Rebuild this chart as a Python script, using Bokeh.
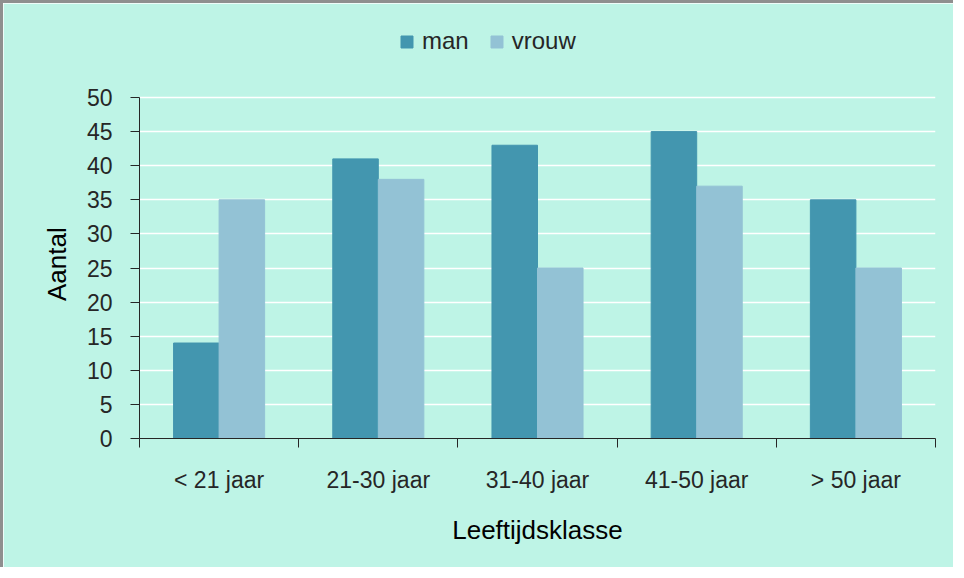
from bokeh.plotting import figure
from bokeh.models import ColumnDataSource, FixedTicker, Legend, LegendItem, Title
from bokeh.transform import dodge
from bokeh.embed import file_html
from bokeh.resources import INLINE

categories = ["< 21 jaar", "21-30 jaar", "31-40 jaar", "41-50 jaar", "> 50 jaar"]
man = [14, 41, 43, 45, 35]
vrouw = [35, 38, 25, 37, 25]
y_ticks = [0, 5, 10, 15, 20, 25, 30, 35, 40, 45, 50]
y_max = 50

BG = "#BEF4E6"
C_MAN = "#4396AF"
C_VROUW = "#93C2D5"
FONT = "Liberation Sans"

# layout (pixels inside the figure)
W, H = 953, 567
FRAME_TOP, FRAME_BOTTOM, AXIS_TOP = 20, 435, 94
range_end = y_max * (FRAME_BOTTOM - FRAME_TOP) / (FRAME_BOTTOM - AXIS_TOP)

centers = [i + 0.5 for i in range(len(categories))]
src = ColumnDataSource(dict(x=centers, cat=categories, man=man, vrouw=vrouw))

p = figure(width=W, height=H, output_backend="svg", toolbar_location=None,
           x_range=(0, len(categories)), y_range=(0, range_end),
           background_fill_color=BG, border_fill_color=BG,
           min_border_left=136, min_border_right=21, min_border_top=FRAME_TOP,
           min_border_bottom=H - FRAME_BOTTOM)
p.styles = {"border-left": "3px solid #8f8f8f", "border-top": "3px solid #8f8f8f"}
p.outline_line_color = BG
p.outline_line_width = 2

bw = 0.286
r_man = p.vbar(x=dodge("x", -bw / 2, range=p.x_range), top="man", width=bw, source=src,
               fill_color=C_MAN, line_color=C_MAN)
r_vrouw = p.vbar(x=dodge("x", bw / 2, range=p.x_range), top="vrouw", width=bw, source=src,
                 fill_color=C_VROUW, line_color=C_VROUW)

# x axis: labels at centers, ticks at category boundaries
xa = p.xaxis[0]
xa.ticker = FixedTicker(ticks=centers, minor_ticks=list(range(len(categories) + 1)))
xa.major_label_overrides = {c: lab for c, lab in zip(centers, categories)}
xa.major_tick_line_color = None
xa.major_tick_out = 0
xa.major_tick_in = 0
xa.minor_tick_out = 9
xa.minor_tick_in = 0
xa.minor_tick_line_color = "#262626"
xa.axis_line_color = "#262626"
xa.major_label_text_font = FONT
xa.major_label_text_font_size = "23px"
xa.major_label_text_color = "#262626"
xa.major_label_standoff = 19
xa.axis_label = "Leeftijdsklasse"
xa.axis_label_text_font = FONT
xa.axis_label_text_font_size = "26px"
xa.axis_label_text_font_style = "normal"
xa.axis_label_text_color = "#000000"
xa.axis_label_standoff = 19

ya = p.yaxis[0]
ya.ticker = FixedTicker(ticks=y_ticks)
ya.bounds = (0, y_max)
ya.minor_tick_line_color = None
ya.major_tick_out = 9
ya.major_tick_in = 0
ya.major_tick_line_color = "#262626"
ya.axis_line_color = "#262626"
ya.major_label_text_font = FONT
ya.major_label_text_font_size = "23px"
ya.major_label_text_color = "#262626"
ya.major_label_standoff = 18

# y-axis title, centred on the 0..50 part of the axis
label_text = "Aantal"
label_w = 74
y_title = Title(text=label_text, align="left",
                offset=(FRAME_BOTTOM - AXIS_TOP) / 2 - label_w / 2 + 4,
                text_font=FONT, text_font_size="26px", text_font_style="normal",
                text_color="#000000", standoff=24)
p.add_layout(y_title, "left")

p.xgrid.grid_line_color = None
p.ygrid.grid_line_color = "white"
p.ygrid.grid_line_width = 1.5
p.ygrid.bounds = (0, y_max)

legend = Legend(items=[LegendItem(label="man", renderers=[r_man]),
                       LegendItem(label="vrouw", renderers=[r_vrouw])],
                orientation="horizontal", location=(260, 383),
                background_fill_alpha=0, border_line_color=None,
                padding=0, spacing=20, label_standoff=8,
                glyph_width=15, glyph_height=15,
                label_text_font=FONT, label_text_font_size="24px",
                label_text_color="#262626")
p.add_layout(legend, "center")

open("out.html", "w").write(file_html(p, INLINE))
